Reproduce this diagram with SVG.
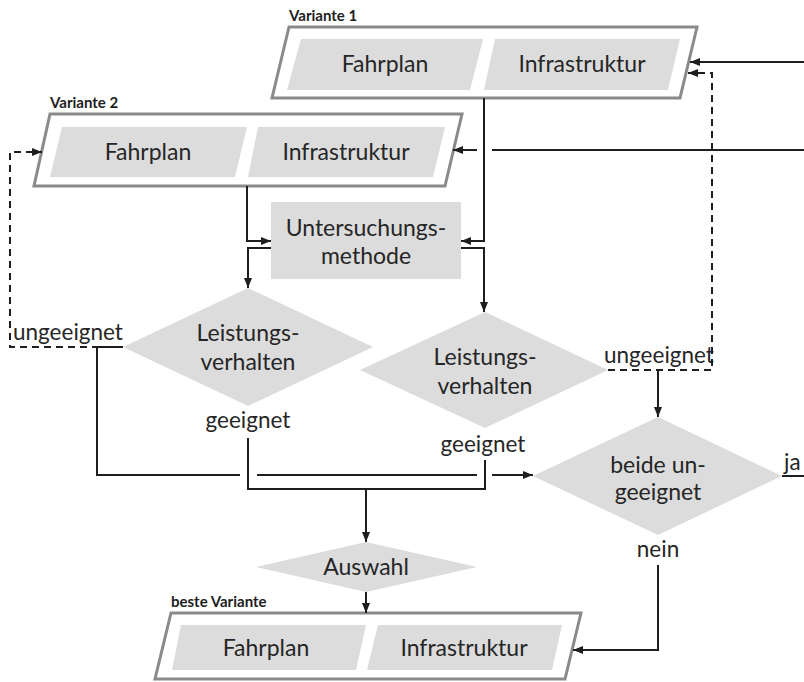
<svg xmlns="http://www.w3.org/2000/svg" width="804" height="682" viewBox="0 0 804 682">
  <defs>
    <marker id="arrow" markerUnits="userSpaceOnUse" markerWidth="10" markerHeight="8" refX="10" refY="4" orient="auto">
      <path d="M0,0 L10,4 L0,8 z" fill="#1e1e1e"/>
    </marker>
    <style>
      .frame { fill: #ffffff; stroke: #8a8a8a; stroke-width: 3; }
      .cell { fill: #dcdcdc; stroke: none; }
      .txt { font-family: Lato, "Open Sans", sans-serif; font-size: 23px; fill: #262626; text-anchor: middle; }
      .lbl { font-family: Lato, "Open Sans", sans-serif; font-size: 22.5px; fill: #262626; }
      .head { font-family: Lato, "Open Sans", sans-serif; font-size: 15px; font-weight: bold; fill: #1e1e1e; }
      .wire { fill: none; stroke: #1e1e1e; stroke-width: 2; }
      .dash { fill: none; stroke: #1e1e1e; stroke-width: 2; stroke-dasharray: 7 5; }
    </style>
  </defs>

  <!-- Variante 1 -->
  <g id="variante1">
    <text class="head" x="289" y="21">Variante 1</text>
    <polygon class="frame" points="289,27 697,27 680,98 272,98"/>
    <polygon class="cell" points="301,39 483,39 470,90 287,90"/>
    <polygon class="cell" points="495,39 680,39 668,90 484,90"/>
    <text class="txt" x="385" y="72">Fahrplan</text>
    <text class="txt" x="582" y="72">Infrastruktur</text>
  </g>

  <!-- Variante 2 -->
  <g id="variante2">
    <text class="head" x="50" y="108">Variante 2</text>
    <polygon class="frame" points="50,114 462,114 445,186 34,186"/>
    <polygon class="cell" points="62,127 247,127 235,177 50,177"/>
    <polygon class="cell" points="258,127 445,127 433,177 248,177"/>
    <text class="txt" x="148" y="160">Fahrplan</text>
    <text class="txt" x="346" y="160">Infrastruktur</text>
  </g>

  <!-- Untersuchungsmethode -->
  <g id="methode">
    <rect class="cell" x="271" y="202" width="190" height="77"/>
    <text class="txt" x="366" y="236">Untersuchungs-</text>
    <text class="txt" x="366" y="264">methode</text>
  </g>

  <!-- Leistungsverhalten (Variante 2) -->
  <g id="leistung2">
    <polygon class="cell" points="248,288 373,347 248,406 123,347"/>
    <text class="txt" x="248" y="341">Leistungs-</text>
    <text class="txt" x="248" y="370">verhalten</text>
  </g>

  <!-- Leistungsverhalten (Variante 1) -->
  <g id="leistung1">
    <polygon class="cell" points="485,312 608,370 485,428 360,370"/>
    <text class="txt" x="485" y="365">Leistungs-</text>
    <text class="txt" x="485" y="394">verhalten</text>
  </g>

  <!-- beide ungeeignet -->
  <g id="beide">
    <polygon class="cell" points="658,417 782,476 658,535 533,476"/>
    <text class="txt" x="658" y="473">beide un-</text>
    <text class="txt" x="658" y="500">geeignet</text>
  </g>

  <!-- Auswahl -->
  <g id="auswahl">
    <polygon class="cell" points="366,542 477,567 366,592 256,567"/>
    <text class="txt" x="366" y="575">Auswahl</text>
  </g>

  <!-- beste Variante -->
  <g id="beste">
    <text class="head" x="171" y="607">beste Variante</text>
    <polygon class="frame" points="171,613 581,613 565,679 155,679"/>
    <polygon class="cell" points="181,625 366,625 356,670 172,670"/>
    <polygon class="cell" points="378,625 562,625 552,670 367,670"/>
    <text class="txt" x="266" y="656">Fahrplan</text>
    <text class="txt" x="464" y="656">Infrastruktur</text>
  </g>

  <!-- edge labels -->
  <g id="labels">
    <text class="lbl" x="13" y="340">ungeeignet</text>
    <text class="lbl" x="604" y="363">ungeeignet</text>
    <text class="lbl" x="248" y="428" text-anchor="middle">geeignet</text>
    <text class="lbl" x="483" y="452" text-anchor="middle">geeignet</text>
    <text class="lbl" x="784" y="470">ja</text>
    <text class="lbl" x="658" y="557" text-anchor="middle">nein</text>
  </g>

  <!-- connectors -->
  <g id="connectors">
    <path class="wire" d="M247,186 V241 H271" marker-end="url(#arrow)"/>
    <path class="wire" d="M484,98 V241 H461" marker-end="url(#arrow)"/>
    <path class="wire" d="M271,248 H248 V288" marker-end="url(#arrow)"/>
    <path class="wire" d="M461,248 H484 V312" marker-end="url(#arrow)"/>

    <!-- feedback to Variante 2 -->
    <path class="dash" d="M123,347 H10 V152 H42" marker-end="url(#arrow)"/>
    <!-- feedback to Variante 1 -->
    <path class="dash" d="M608,370 H712 V73 H688" marker-end="url(#arrow)"/>

    <!-- ungeeignet paths into "beide ungeeignet" -->
    <path class="wire" d="M123,347 H97 V475 H240"/>
    <path class="wire" d="M257,475 H477"/>
    <path class="wire" d="M492,475 H533" marker-end="url(#arrow)"/>
    <path class="wire" d="M658,370 V417" marker-end="url(#arrow)"/>

    <!-- geeignet paths into Auswahl -->
    <path class="wire" d="M248,438 V489 H485 V460"/>
    <path class="wire" d="M366,489 V542" marker-end="url(#arrow)"/>
    <path class="wire" d="M366,592 V613" marker-end="url(#arrow)"/>

    <!-- nein / ja -->
    <path class="wire" d="M658,565 V650 H573" marker-end="url(#arrow)"/>
    <path class="wire" d="M782,476 H804"/>

    <!-- incoming lines from the right -->
    <path class="wire" d="M804,62 H690" marker-end="url(#arrow)"/>
    <path class="wire" d="M804,150 H492"/>
    <path class="wire" d="M477,150 H453" marker-end="url(#arrow)"/>
  </g>
</svg>
